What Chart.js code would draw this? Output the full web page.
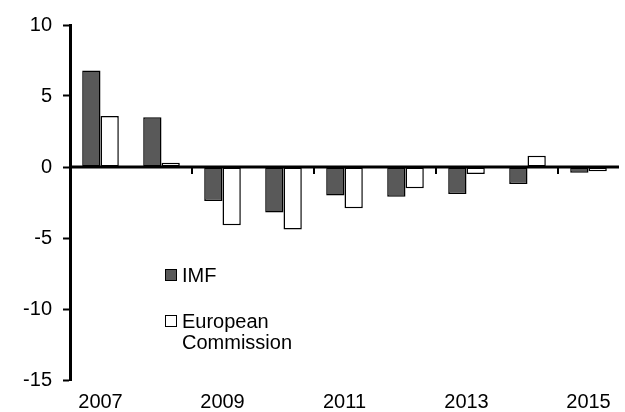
<!DOCTYPE html>
<html>
<head>
<meta charset="utf-8">
<script src="https://cdn.jsdelivr.net/npm/chart.js"></script>
<style>
  body { margin: 0; background: #fff; }
  #wrap { position: relative; width: 625px; height: 412px; }
  .legend { position: absolute; font-family: "Liberation Sans", Arial, sans-serif; font-size: 20px; color: #000; line-height: 21px; }
  .legend .box { position: absolute; left: 0; top: 4px; width: 10px; height: 10px; border: 1.5px solid #000; }
  .legend .txt { position: absolute; left: 17px; top: 0; white-space: nowrap; }
</style>
</head>
<body>
<div id="wrap">
  <canvas id="chart" width="625" height="412"></canvas>
  <div class="legend" style="left:165px; top:265px;">
    <div class="box" style="background:#595959"></div><div class="txt">IMF</div>
  </div>
  <div class="legend" style="left:165px; top:311px;">
    <div class="box" style="background:#fff"></div><div class="txt">European<br>Commission</div>
  </div>
</div>
<script>
// categories and series values
const years = ['2007', '2008', '2009', '2010', '2011', '2012', '2013', '2014', '2015'];
const imfValues = [6.8, 3.5, -2.4, -3.2, -2.0, -2.1, -1.9, -1.2, -0.4];
const ecValues = [3.6, 0.3, -4.1, -4.4, -2.9, -1.5, -0.5, 0.8, -0.3];
const yTicks = [-15, -10, -5, 0, 5, 10];

// zero line and the small x ticks between every other year
const zeroLinePlugin = {
  id: 'zeroLine',
  afterDatasetsDraw(chart) {
    const { ctx, chartArea, scales } = chart;
    const y0 = scales.y.getPixelForValue(0);
    ctx.save();
    ctx.strokeStyle = '#000';
    ctx.lineWidth = 3;
    ctx.beginPath();
    ctx.moveTo(chartArea.left, y0);
    ctx.lineTo(chartArea.right, y0);
    ctx.stroke();
    ctx.lineWidth = 2;
    for (let i = 1; i < years.length - 1; i += 2) {
      const x = (scales.x.getPixelForValue(i) + scales.x.getPixelForValue(i + 1)) / 2;
      ctx.beginPath();
      ctx.moveTo(x, y0);
      ctx.lineTo(x, y0 + 7);
      ctx.stroke();
    }
    ctx.restore();
  }
};

new Chart(document.getElementById('chart'), {
  type: 'bar',
  data: {
    labels: years,
    datasets: [
      {
        label: 'IMF',
        data: imfValues,
        backgroundColor: '#595959',
        borderColor: '#000',
        borderWidth: 1.5,
        borderSkipped: false
      },
      {
        label: 'European Commission',
        data: ecValues,
        backgroundColor: '#fff',
        borderColor: '#000',
        borderWidth: 1.5,
        borderSkipped: false
      }
    ]
  },
  options: {
    responsive: false,
    animation: false,
    events: [],
    layout: { padding: { top: 25, right: 6, left: 0, bottom: 0 } },
    plugins: { legend: { display: false }, tooltip: { enabled: false } },
    datasets: { bar: { categoryPercentage: 0.6, barPercentage: 1 } },
    scales: {
      x: {
        grid: { display: false },
        border: { display: false },
        ticks: {
          autoSkip: false,
          maxRotation: 0,
          color: '#000',
          padding: 2,
          font: { family: 'Liberation Sans', size: 20 },
          callback: (v, i) => (i % 2 === 0 ? years[i] : '')
        },
        afterFit: s => { s.height = 32; }
      },
      y: {
        min: -15,
        max: 10,
        afterBuildTicks: s => { s.ticks = yTicks.map(v => ({ value: v })); },
        border: { color: '#000', width: 3 },
        grid: { drawOnChartArea: false, tickLength: 7, tickColor: '#000', tickWidth: 2 },
        ticks: {
          color: '#000',
          padding: 11,
          font: { family: 'Liberation Sans', size: 20 }
        },
        afterFit: s => { s.width = 70; }
      }
    }
  },
  plugins: [zeroLinePlugin]
});
</script>
</body>
</html>
